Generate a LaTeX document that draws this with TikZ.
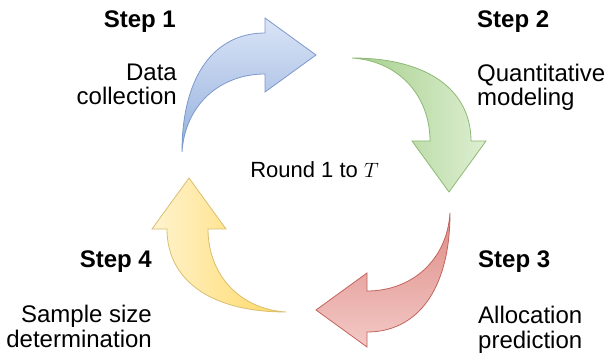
\documentclass[tikz,border=0pt]{standalone}
\usepackage{xcolor}
\usepackage{fontspec}
\setmainfont{Liberation Sans}

\definecolor{blueline}{HTML}{7C98CC}
\definecolor{bluelight}{HTML}{DAE4F6}
\definecolor{bluedark}{HTML}{94B0DE}
\definecolor{greenline}{HTML}{8DB974}
\definecolor{greenlight}{HTML}{DDEFD2}
\definecolor{greendark}{HTML}{A6CF8C}
\definecolor{redline}{HTML}{C3635E}
\definecolor{redlight}{HTML}{F3C9C6}
\definecolor{reddark}{HTML}{DE8C86}
\definecolor{yellowline}{HTML}{D8BE6E}
\definecolor{yellowlight}{HTML}{FFF3CF}
\definecolor{yellowdark}{HTML}{FFD862}

\tikzset{
	cyc arrow/.pic={
		\shade[#1] (0,22) -- (0,37) -- (51,0) -- (0,-37) -- (0,-19)
		.. controls (-45,-19) and (-80,-50) .. (-83,-97)
		.. controls (-83,-20) and (-50,22) .. (0,22) -- cycle;
	},
	blue arrow/.style={draw=blueline, line width=0.8pt, top color=bluelight, bottom color=bluedark},
	green arrow/.style={draw=greenline, line width=0.8pt, left color=greendark, right color=greenlight},
	red arrow/.style={draw=redline, line width=0.8pt, top color=reddark, bottom color=redlight},
	yellow arrow/.style={draw=yellowline, line width=0.8pt, left color=yellowlight, right color=yellowdark},
	steptitle/.style={font=\fontsize{24}{25}\selectfont\bfseries, inner sep=0pt},
	steptext/.style={font=\fontsize{24}{24}\selectfont, inner sep=0pt},
}

\begin{document}
\begin{tikzpicture}[x=1pt, y=1pt]
	\useasboundingbox (0,0) rectangle (608,359);
	
	% the four curved arrows of the cycle
	\pic (arrow1) at (265,304) {cyc arrow=blue arrow};
	\pic[rotate=-90] (arrow2) at (449,218) {cyc arrow=green arrow};
	\pic[rotate=180] (arrow3) at (367,49) {cyc arrow=red arrow};
	\pic[rotate=90] (arrow4) at (189,130) {cyc arrow=yellow arrow};
	
	% centre label
	\node[steptext, font=\fontsize{22}{24}\selectfont, anchor=base] (round) at (314.5,181) {Round 1 to $T$};
	
	% steps (multi-line texts are placed by their last line)
	\node[steptitle, anchor=base east] (step1) at (176,331) {Step 1};
	\node[steptext, anchor=base east, align=right] (text1) at (177,254) {Data\\collection};
	
	\node[steptitle, anchor=base west] (step2) at (477,331) {Step 2};
	\node[steptext, anchor=base west, align=left] (text2) at (477,253) {Quantitative\\modeling};
	
	\node[steptitle, anchor=base west] (step3) at (478,91) {Step 3};
	\node[steptext, anchor=base west, align=left] (text3) at (478,11) {Allocation\\prediction};
	
	\node[steptitle, anchor=base east] (step4) at (152,91) {Step 4};
	\node[steptext, anchor=base east, align=right] (text4) at (152,12) {Sample size\\determination};
	
\end{tikzpicture}
\end{document}
